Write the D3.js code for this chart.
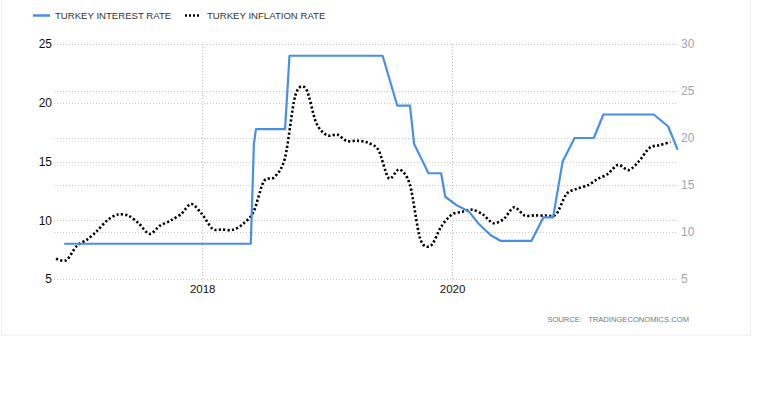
<!DOCTYPE html>
<html>
<head>
<meta charset="utf-8">
<script src="https://cdn.jsdelivr.net/npm/d3@7"></script>
<style>
  body { margin: 0; background: #fff; }
  svg { display: block; font-family: "Liberation Sans", Arial, sans-serif; }
</style>
</head>
<body>
<div id="chartarea"></div>
<script>
// interest rate, at decision dates
const rateDates = ['2016-11-24', '2018-05-23', '2018-06-01', '2018-06-07', '2018-08-31', '2018-09-13',
    '2019-06-12', '2019-07-25', '2019-08-31', '2019-09-12', '2019-10-24', '2019-11-30', '2019-12-12',
    '2020-01-16', '2020-02-19', '2020-03-17', '2020-04-22', '2020-05-21', '2020-08-20', '2020-09-24',
    '2020-10-22', '2020-11-19', '2020-12-24', '2021-02-18', '2021-03-18', '2021-07-14', '2021-08-12',
    '2021-09-23', '2021-10-21'];
const rateValues = [8, 8, 16.5, 17.75, 17.75, 24,
    24, 19.75, 19.75, 16.5, 14, 14, 12,
    11.25, 10.75, 9.75, 8.75, 8.25, 8.25, 10.25,
    10.25, 15, 17, 17, 19, 19, 19,
    18, 16];

// inflation rate, monthly from Oct 2016
const inflationStart = '2016-10';
const inflationValues = [7.16, 7.0, 8.53,
    9.22, 10.13, 11.29, 11.87, 11.72, 10.9, 9.79, 10.68, 11.2, 11.9, 12.98, 11.92,
    10.35, 10.26, 10.23, 10.85, 12.15, 15.39, 15.85, 17.9, 24.52, 25.24, 21.62, 20.3,
    20.35, 19.67, 19.71, 19.5, 18.71, 15.72, 16.65, 15.01, 9.26, 8.55, 10.56, 11.84,
    12.15, 12.37, 11.86, 10.94, 11.39, 12.62, 11.76, 11.77, 11.75, 11.89, 14.03, 14.6,
    14.97, 15.61, 16.19, 17.14, 16.59, 17.53, 18.95, 19.25, 19.58];

const leftTicks = [5, 10, 15, 20, 25];
const rightTicks = [5, 10, 15, 20, 25, 30];
const seriesNames = ['TURKEY INTEREST RATE', 'TURKEY INFLATION RATE'];
const sourceText = 'SOURCE:   TRADINGECONOMICS.COM';

const W = 757, H = 399;
const margin = { top: 44, right: 79, bottom: 120, left: 54 };
const blue = '#4a8fe6';

const parse = d3.timeParse('%Y-%m-%d');
const rateData = rateDates.map((d, i) => ({ date: parse(d), value: rateValues[i] }));
const startMonth = d3.timeParse('%Y-%m')(inflationStart);
const inflationData = inflationValues.map((v, i) => ({
    date: d3.timeDay.offset(d3.timeMonth.offset(startMonth, i + 1), -1),
    value: v
}));

const svg = d3.select('#chartarea')
    .append('svg')
        .attr('width', W)
        .attr('height', H);

// container border
svg.append('rect')
    .attr('x', 1.5).attr('y', -5)
    .attr('width', 749).attr('height', 340)
    .attr('fill', 'none')
    .attr('stroke', '#eeeeee');

const x = d3.scaleTime()
    .domain([parse('2016-10-25'), parse('2021-10-22')])
    .range([margin.left, W - margin.right]);

const yLeft = d3.scaleLinear()
    .domain([5, 25])
    .range([H - margin.bottom, margin.top]);

const yRight = d3.scaleLinear()
    .domain([5, 30])
    .range([H - margin.bottom, margin.top]);

const grid = svg.append('g').attr('class', 'grid');

// horizontal grid for both axes
const gridYs = leftTicks.map(yLeft).concat(rightTicks.map(yRight));
grid.selectAll('line.h')
    .data(gridYs)
    .enter().append('line')
        .attr('class', 'h')
        .attr('x1', margin.left)
        .attr('x2', W - margin.right)
        .attr('y1', d => Math.round(d) + 0.5)
        .attr('y2', d => Math.round(d) + 0.5)
        .attr('stroke', '#c8c8c8')
        .attr('stroke-dasharray', '1,2');

const xTicks = x.ticks(d3.timeYear.every(2));
grid.selectAll('line.v')
    .data(xTicks)
    .enter().append('line')
        .attr('class', 'v')
        .attr('x1', d => Math.round(x(d)) + 0.5)
        .attr('x2', d => Math.round(x(d)) + 0.5)
        .attr('y1', margin.top)
        .attr('y2', H - margin.bottom + 6)
        .attr('stroke', '#c8c8c8')
        .attr('stroke-dasharray', '1,2');

// left axis
const leftAxis = d3.axisLeft(yLeft).tickValues(leftTicks).tickSize(0).tickPadding(2);
svg.append('g')
    .attr('transform', `translate(${margin.left}, 0)`)
    .call(leftAxis)
    .call(g => g.select('.domain').remove())
    .selectAll('text')
        .attr('font-size', '12px')
        .attr('font-family', '"Liberation Sans", Arial, sans-serif')
        .attr('fill', '#111');

// right axis
const rightAxis = d3.axisRight(yRight).tickValues(rightTicks).tickSize(0).tickPadding(3);
svg.append('g')
    .attr('transform', `translate(${W - margin.right}, 0)`)
    .call(rightAxis)
    .call(g => g.select('.domain').remove())
    .selectAll('text')
        .attr('font-size', '12px')
        .attr('font-family', '"Liberation Sans", Arial, sans-serif')
        .attr('fill', '#a3a3ad');

// x axis
const xAxis = d3.axisBottom(x).tickValues(xTicks).tickFormat(d3.timeFormat('%Y')).tickSize(0).tickPadding(6);
svg.append('g')
    .attr('transform', `translate(0, ${H - margin.bottom})`)
    .call(xAxis)
    .call(g => g.select('.domain').remove())
    .selectAll('text')
        .attr('font-size', '11.5px')
        .attr('font-family', '"Liberation Sans", Arial, sans-serif')
        .attr('fill', '#111');

// inflation (right axis)
const inflationLine = d3.line()
    .x(d => x(d.date))
    .y(d => yRight(d.value))
    .curve(d3.curveCardinal.tension(0.1));

svg.append('path')
    .datum(inflationData)
    .attr('d', inflationLine)
    .attr('fill', 'none')
    .attr('stroke', '#000')
    .attr('stroke-width', 2.6)
    .attr('stroke-dasharray', '2.2,2.2');

// interest rate (left axis)
const rateLine = d3.line()
    .x(d => x(d.date))
    .y(d => yLeft(d.value));

svg.append('path')
    .datum(rateData)
    .attr('d', rateLine)
    .attr('fill', 'none')
    .attr('stroke', blue)
    .attr('stroke-width', 2.2)
    .attr('stroke-linejoin', 'round');

// legend
const legend = svg.append('g');
legend.append('line')
    .attr('x1', 33).attr('x2', 50)
    .attr('y1', 15.5).attr('y2', 15.5)
    .attr('stroke', blue)
    .attr('stroke-width', 2.5);
legend.append('text')
    .attr('x', 55).attr('y', 19)
    .attr('font-size', '9.6px')
    .attr('fill', '#333')
    .text(seriesNames[0]);
legend.append('line')
    .attr('x1', 185).attr('x2', 201)
    .attr('y1', 15.5).attr('y2', 15.5)
    .attr('stroke', '#000')
    .attr('stroke-width', 2.5)
    .attr('stroke-dasharray', '2,2');
legend.append('text')
    .attr('x', 207).attr('y', 19)
    .attr('font-size', '9.6px')
    .attr('fill', '#333')
    .text(seriesNames[1]);

// source
svg.append('text')
    .attr('x', 689).attr('y', 322)
    .attr('text-anchor', 'end')
    .attr('font-size', '7.6px')
    .attr('fill', '#777')
    .style('white-space', 'pre')
    .text(sourceText);
</script>
</body>
</html>
